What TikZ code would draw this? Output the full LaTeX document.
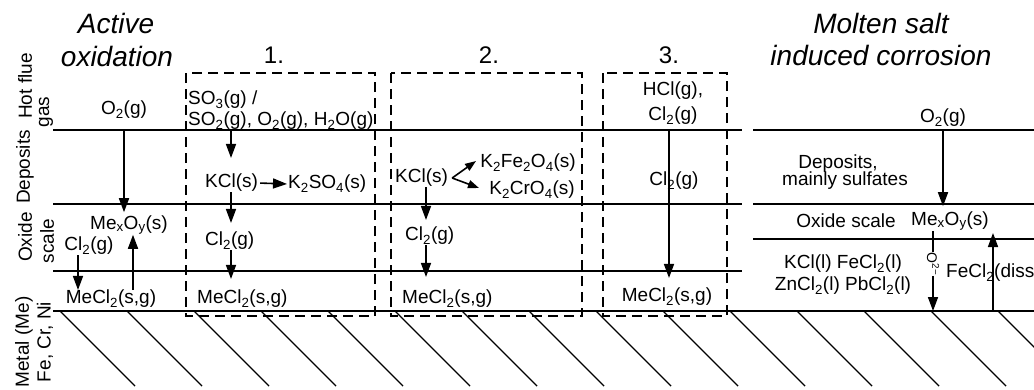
\documentclass[tikz,border=0pt]{standalone}
\usepackage{fontspec}
\setmainfont{Liberation Sans}
\usetikzlibrary{arrows.meta}
\begin{document}
\begin{tikzpicture}[x=1pt,y=-1pt,
  every node/.style={inner sep=0pt, font=\fontsize{19}{22}\selectfont},
  lay/.style={line width=2pt},
  arline/.style={line width=1.6pt},
  ar/.style={line width=1.6pt, -{Triangle[length=14pt,width=10pt]}},
  smallar/.style={line width=1.6pt, -{Triangle[length=11pt,width=8pt]}},
  box/.style={line width=2pt, dash pattern=on 10pt off 6pt},
  hat/.style={line width=1.4pt},
  ttl/.style={font=\fontsize{28}{32}\selectfont\itshape, anchor=base},
  num/.style={font=\fontsize{24}{28}\selectfont, anchor=base},
  side/.style={rotate=90}]
\useasboundingbox (0,0) rectangle (1034,389);
\fill[white] (0,0) rectangle (1034,389);
\clip (0,0) rectangle (1034,389);

% titles
\node[ttl] (t1a) at (116,33) {Active};
\node[ttl] (t1b) at (117,66) {oxidation};
\node[num] (n1) at (274,63) {1.};
\node[num] (n2) at (489,63) {2.};
\node[num] (n3) at (669,63) {3.};
\node[ttl] (t2a) at (881,33) {Molten salt};
\node[ttl] (t2b) at (881,65) {induced corrosion};

% side labels
\node[side] (hf1) at (25,86) {Hot flue};
\node[side] (hf2) at (46,112) {gas};
\node[side] (dp) at (25,167) {Deposits};
\node[side] (ox1) at (25,237) {Oxide};
\node[side] (ox2) at (47,241) {scale};
\node[side] (mt1) at (24,342) {Metal (Me)};
\node[side] (mt2) at (45,342) {Fe, Cr, Ni};

% dashed boxes
\draw[box] (186,73) rectangle (375,316);
\draw[box] (391,73) rectangle (582,316);
\draw[box] (603,73) rectangle (727,316);

% layer lines
\draw[lay] (53,130) -- (742,130);
\draw[lay] (53,204) -- (742,204);
\draw[lay] (53,271) -- (742,271);
\draw[lay] (753,130) -- (1034,130);
\draw[lay] (753,204) -- (1034,204);
\draw[lay] (753,239) -- (1034,239);
\draw[lay] (53,311) -- (1034,311);

% hatching
\foreach \i in {0,...,14} \draw[hat] ({60+67*\i},311) -- ++(75,75);

% left panel
\node (lo2) at (124,110) {O\textsubscript{2}(g)};
\node (lmeo) at (129,225) {Me\textsubscript{x}O\textsubscript{y}(s)};
\node (lcl) at (89,246) {Cl\textsubscript{2}(g)};
\node (lmecl) at (111,299) {MeCl\textsubscript{2}(s,g)};
\coordinate (la) at (124,130);
\draw[ar, shorten >=3pt] (la) -- (la |- lmeo.north);
\coordinate (lb) at ([xshift=-11pt]lcl.south);
\draw[ar] (lb) -- (lb |- lmecl.north);
\coordinate (lc) at ([xshift=22pt]lmecl.north);
\draw[ar] (lc) -- (lc |- lmeo.south);

% box 1
\node[anchor=west] (so3) at (188,100) {SO\textsubscript{3}(g) /};
\node[anchor=west] (so2) at (188,121) {SO\textsubscript{2}(g), O\textsubscript{2}(g), H\textsubscript{2}O(g)};
\node[anchor=west] (kcl1) at (205,183) {KCl(s)};
\node[anchor=west] (k2so4) at (288,184) {K\textsubscript{2}SO\textsubscript{4}(s)};
\node[anchor=west] (cl1) at (205,241) {Cl\textsubscript{2}(g)};
\node[anchor=west] (mecl1) at (197,299) {MeCl\textsubscript{2}(s,g)};
\coordinate (ba) at (231,130);
\draw[ar, shorten >=16pt] (ba) -- (ba |- kcl1.north);
\coordinate (bk) at (ba |- kcl1.south);
\draw[ar, shorten >=9pt] (bk) -- (bk |- cl1.north);
\coordinate (bb) at (ba |- cl1.south);
\draw[ar, shorten >=11pt] (bb) -- (bb |- mecl1.north);
\draw[ar, shorten <=2pt, shorten >=1pt] (kcl1.east) -- (k2so4.west);

% box 2
\node[anchor=west] (kcl2) at (395,178) {KCl(s)};
\node[anchor=east] (kfe) at (576,163) {K\textsubscript{2}Fe\textsubscript{2}O\textsubscript{4}(s)};
\node[anchor=east] (kcr) at (575,190) {K\textsubscript{2}CrO\textsubscript{4}(s)};
\node[anchor=west] (cl2) at (405,236) {Cl\textsubscript{2}(g)};
\node[anchor=west] (mecl2) at (402,299) {MeCl\textsubscript{2}(s,g)};
\coordinate (kf) at ([xshift=4pt]kcl2.east);
\coordinate (kfe1) at (476,161);
\coordinate (kcr1) at (479,188);
\draw[smallar] (kf) -- (kfe1);
\draw[smallar] (kf) -- (kcr1);
\coordinate (ka) at (426,0);
\coordinate (kk) at (ka |- kcl2.south);
\draw[ar, shorten >=7pt] (kk) -- (kk |- cl2.north);
\coordinate (kb) at (ka |- cl2.south);
\draw[ar, shorten >=13pt] (kb) -- (kb |- mecl2.north);

% box 3
\node (hcl) at (673,91) {HCl(g),};
\node (cl3a) at (673,116) {Cl\textsubscript{2}(g)};
\node (cl3b) at (674,181) {Cl\textsubscript{2}(g)};
\node (mecl3) at (667,297) {MeCl\textsubscript{2}(s,g)};
\coordinate (c3) at (669,130);
\draw[ar, shorten >=10pt] (c3) -- (c3 |- mecl3.north);

% right panel
\node (ro2) at (943,118) {O\textsubscript{2}(g)};
\node (dep1) at (838,164) {Deposits,};
\node (dep2) at (845,181) {mainly sulfates};
\node (oxs) at (846,221) {Oxide scale};
\node (rmeo) at (950,221) {Me\textsubscript{x}O\textsubscript{y}(s)};
\node (kclfe) at (843,264) {KCl(l) FeCl\textsubscript{2}(l)};
\node (zncl) at (843,286) {ZnCl\textsubscript{2}(l) PbCl\textsubscript{2}(l)};
\node[anchor=west] (fecl) at (946,273) {FeCl\textsubscript{2}(diss};
\node[rotate=-90, font=\fontsize{14}{16}\selectfont, inner sep=0.5pt] (o2m) at (933,264) {O\textsuperscript{2−}};
\coordinate (r1) at (943,130);
\draw[ar, shorten >=5pt] (r1) -- (r1 |- rmeo.north);
\coordinate (m1) at (933,311);
\draw[arline] (m1 |- rmeo.south) -- (o2m.west);
\draw[ar] (o2m.east) -- (m1);
\coordinate (m2) at (993,311);
\coordinate (m2t) at (993,233);
\draw[ar] (m2) -- (m2t);
\end{tikzpicture}
\end{document}
